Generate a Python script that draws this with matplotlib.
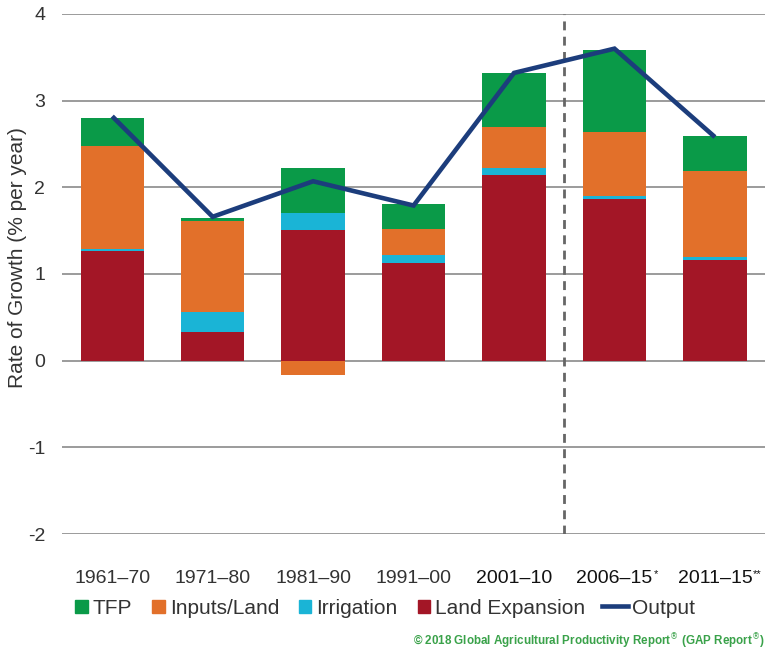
import matplotlib
matplotlib.use("Agg")
import matplotlib.pyplot as plt
import matplotlib.patches as mpatches
from matplotlib.lines import Line2D
import numpy as np

plt.rcParams['font.family'] = ['Liberation Sans', 'DejaVu Sans']

# ---- data ----
categories = ['1961–70', '1971–80', '1981–90', '1991–00', '2001–10', '2006–15', '2011–15']
category_marks = ['', '', '', '', '', '*', '**']
land_expansion = [1.26, 0.33, 1.51, 1.13, 2.14, 1.86, 1.16]
irrigation = [0.03, 0.23, 0.19, 0.09, 0.08, 0.04, 0.04]
inputs_land = [1.19, 1.05, -0.16, 0.30, 0.48, 0.74, 0.99]
tfp = [0.32, 0.035, 0.52, 0.29, 0.62, 0.95, 0.40]
output = [2.82, 1.66, 2.07, 1.79, 3.32, 3.60, 2.58]
y_ticks = [-2, -1, 0, 1, 2, 3, 4]

series = [
    ('Land Expansion', land_expansion, '#a31626'),
    ('Irrigation', irrigation, '#1ab4d6'),
    ('Inputs/Land', inputs_land, '#e2702a'),
    ('TFP', tfp, '#0a9a48'),
]

fig = plt.figure(figsize=(7.69, 6.53), dpi=100)
ax = fig.add_axes([0.0806, 0.1822, 0.9144, 0.7964])

x = np.arange(len(categories))
pos_base = np.zeros(len(categories))
neg_base = np.zeros(len(categories))
handles = {}
for name, vals, col in series:
    vals = np.array(vals, dtype=float)
    bottoms = np.where(vals >= 0, pos_base, neg_base)
    ax.bar(x, vals, width=0.63, bottom=bottoms, color=col, linewidth=0, zorder=2)
    handles[name] = mpatches.Patch(color=col)
    pos_base = pos_base + np.where(vals >= 0, vals, 0)
    neg_base = neg_base + np.where(vals < 0, vals, 0)

ax.plot(x, output, color='#1c3d7c', lw=3.3, zorder=4, solid_joinstyle='miter',
        solid_capstyle='butt')

# dashed separator
ax.axvline(4.5, ymin=0.0, ymax=1.0, color='#666666', lw=2.0,
           linestyle=(0, (3.2, 2.3)), zorder=3)

ax.set_xlim(-0.5, 6.5)
ax.set_ylim(-2, 4)
ax.set_yticks(y_ticks)
ax.set_yticklabels([str(t) for t in y_ticks])
ax.grid(axis='y', color='#8a8a8a', lw=1.2, zorder=0)
ax.set_axisbelow(True)
for s in ax.spines.values():
    s.set_visible(False)
ax.tick_params(axis='y', length=0, pad=12, labelsize=14, labelcolor='#333333')
ax.set_xticks(x)
ax.set_xticklabels(categories)
ax.tick_params(axis='x', length=0, pad=26, labelsize=14)
for i, lab in enumerate(ax.get_xticklabels()):
    lab.set_color('#333333' if i < 4 else '#111111')
    if category_marks[i]:
        ax.annotate(category_marks[i], xy=(1, 1), xycoords=lab,
                    xytext=(0.5, 1), textcoords='offset points',
                    ha='left', va='top', fontsize=8, color='#111111')

fig.text(18 / 769, 1 - 258 / 653, 'Rate of Growth (% per year)', rotation=90,
         ha='center', va='center', fontsize=15, color='#333333')

leg1 = fig.legend([handles['TFP'], handles['Inputs/Land'], handles['Irrigation'],
                   handles['Land Expansion']],
                  ['TFP', 'Inputs/Land', 'Irrigation', 'Land Expansion'],
                  loc='center left', bbox_to_anchor=(75 / 769, 1 - 608 / 653),
                  ncol=4, frameon=False, fontsize=15, handlelength=0.6,
                  handleheight=0.6, handletextpad=0.25, columnspacing=0.95,
                  borderpad=0, borderaxespad=0)
for t in leg1.get_texts():
    t.set_color('#333333')
leg2 = fig.legend([Line2D([0], [0], color='#1c3d7c', lw=3.3)], ['Output'],
                  loc='center left', bbox_to_anchor=(602 / 769, 1 - 608 / 653),
                  frameon=False, fontsize=15, handlelength=1.25,
                  handletextpad=0.2, borderpad=0, borderaxespad=0)
for t in leg2.get_texts():
    t.set_color('#333333')

fig.text(0.995, 1 - 641 / 653,
         '© 2018 Global Agricultural Productivity Report$^{®}$ (GAP Report$^{®}$)',
         ha='right', va='center', fontsize=8.4, fontweight='bold', color='#3aa24a')

fig.savefig('out.png', dpi=100)
